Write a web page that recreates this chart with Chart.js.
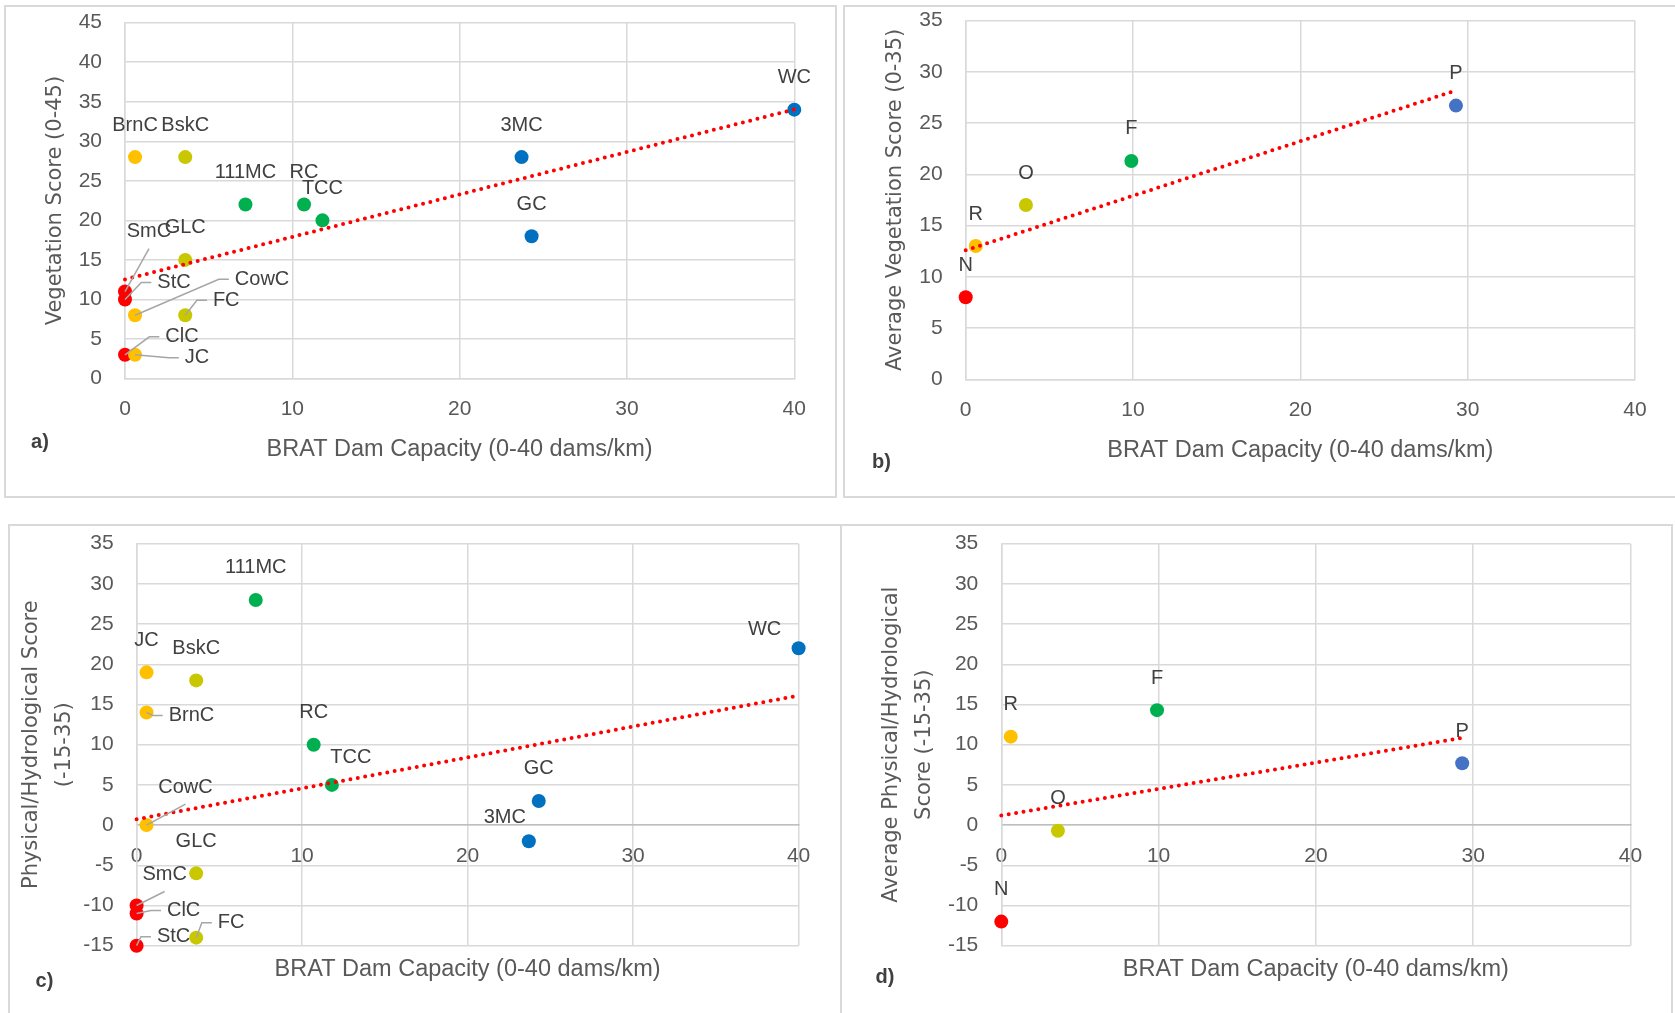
<!DOCTYPE html>
<html>
<head>
<meta charset="utf-8">
<title>BRAT Dam Capacity vs scores</title>
<script src="https://cdn.jsdelivr.net/npm/chart.js"></script>
<style>
  html, body { margin: 0; padding: 0; background: #fff; }
  body { width: 1675px; height: 1013px; position: relative; overflow: hidden; }
  .panel { position: absolute; border: 2px solid #d9d9d9; box-sizing: border-box; background: #fff; }
  .panel canvas { position: absolute; left: 0; top: 0; }
  #pa { left: 4px; top: 5px; width: 833px; height: 493px; }
  #pb { left: 843px; top: 5px; width: 840px; height: 493px; }
  #pc { left: 8px; top: 524px; width: 835px; height: 500px; }
  #pd { left: 840px; top: 524px; width: 833px; height: 500px; }
</style>
</head>
<body>
<div class="panel" id="pa"><canvas id="ca" width="829" height="489"></canvas></div>
<div class="panel" id="pb"><canvas id="cb" width="836" height="489"></canvas></div>
<div class="panel" id="pc"><canvas id="cc" width="831" height="496"></canvas></div>
<div class="panel" id="pd"><canvas id="cd" width="829" height="496"></canvas></div>
<script>
// individual streams (panels a and c)
const streams = ['BrnC', 'BskC', '111MC', 'RC', 'TCC', '3MC', 'GC', 'WC', 'GLC', 'SmC', 'StC', 'CowC', 'FC', 'ClC', 'JC'];
const streamBrat = [0.6, 3.6, 7.2, 10.7, 11.8, 23.7, 24.3, 40, 3.6, 0, 0, 0.6, 3.6, 0, 0.6];
const streamVeg = [28, 28, 22, 22, 20, 28, 18, 34, 15, 11, 10, 8, 8, 3, 3];
const streamPhys = [14, 18, 28, 10, 5, -2, 3, 22, -6, -10, -15, 0, -14, -11, 19];
const streamGroup = ['R', 'O', 'F', 'F', 'F', 'P', 'P', 'P', 'O', 'N', 'N', 'R', 'O', 'N', 'R'];

// group averages (panels b and d)
const groups = ['N', 'R', 'O', 'F', 'P'];
const groupBrat = [0, 0.6, 3.6, 9.9, 29.3];
const groupVeg = [8, 13, 17, 21.3, 26.7];
const groupPhys = [-12, 11, -0.7, 14.3, 7.7];

// axis ranges [min, max, step]
const bratRange = [0, 40, 10];
const vegRange = [0, 45, 5];
const avgVegRange = [0, 35, 5];
const physRange = [-15, 35, 5];

const colorsStreams = { N: '#ff0000', R: '#ffc000', O: '#c9c800', F: '#00b050', P: '#0070c0' };
const colorsGroups = { N: '#ff0000', R: '#ffc000', O: '#c9c800', F: '#00b050', P: '#4472c4' };

// label placement (pixel shift from point, optional leader line)
const shiftA = { SmC: [24, -60, 'below'], StC: [49, -17, 'left'], CowC: [127, -36, 'left'], FC: [41, -15, 'left'], ClC: [57, -18, 'left'], JC: [62, 3, 'left'] };
const shiftC = { BrnC: [45, 3, 'left'], CowC: [39, -38, 'below'], SmC: [28, -31, 'below'], ClC: [47, -3, 'left'], StC: [37, -9, 'left'], FC: [35, -15, 'left'], TCC: [19, -27], '3MC': [-24, -24], WC: [-34, -19] };

const TXT = '#595959';
const GRID = '#d9d9d9';
const SANS = '"Liberation Sans", Arial, sans-serif';

// linear least-squares trendline over the data range
function trendLine(xs, ys) {
  const n = xs.length;
  const mx = xs.reduce((a, b) => a + b, 0) / n;
  const my = ys.reduce((a, b) => a + b, 0) / n;
  let sxy = 0, sxx = 0;
  xs.forEach((x, i) => { sxy += (x - mx) * (ys[i] - my); sxx += (x - mx) * (x - mx); });
  const slope = sxy / sxx, icpt = my - slope * mx;
  const x0 = Math.min(...xs), x1 = Math.max(...xs);
  return [{ x: x0, y: icpt + slope * x0 }, { x: x1, y: icpt + slope * x1 }];
}

const pointNames = {
  id: 'pointNames',
  afterDatasetsDraw(chart, args, o) {
    const ctx = chart.ctx;
    const pts = chart.getDatasetMeta(1).data;
    ctx.save();
    ctx.font = '20px ' + SANS;
    ctx.textAlign = 'center';
    ctx.textBaseline = 'middle';
    o.names.forEach((name, i) => {
      const s = o.shifts[name] || [0, -32];
      const px = pts[i].x, py = pts[i].y;
      const cx = px + s[0], cy = py + s[1];
      if (s[2]) {
        ctx.strokeStyle = '#a6a6a6';
        ctx.lineWidth = 1.5;
        ctx.beginPath();
        ctx.moveTo(px, py);
        if (s[2] === 'below') {
          ctx.lineTo(cx, cy + 17);
        } else {
          const ex = cx - ctx.measureText(name).width / 2 - 6;
          ctx.lineTo(ex - 10, cy);
          ctx.lineTo(ex, cy);
        }
        ctx.stroke();
      }
      ctx.fillStyle = '#404040';
      ctx.fillText(name, cx, cy);
    });
    ctx.font = 'bold 20px ' + SANS;
    ctx.fillStyle = '#404040';
    ctx.fillText(o.letter, o.letterAt[0], o.letterAt[1]);
    ctx.restore();
  }
};

function buildPanel(id, p) {
  const cv = document.getElementById(id);
  const W = cv.width, H = cv.height;
  const colors = p.groups.map(g => p.palette[g]);
  const pts = p.xs.map((x, i) => ({ x: x, y: p.ys[i] }));
  new Chart(cv, {
    type: 'scatter',
    data: {
      datasets: [
        { data: trendLine(p.xs, p.ys), showLine: true, pointRadius: 0, borderColor: '#ff0000',
          borderWidth: 4, borderDash: [0, 7.5], borderCapStyle: 'round', order: 0, clip: false },
        { data: pts, backgroundColor: colors, pointBackgroundColor: colors, pointRadius: 7,
          pointBorderWidth: 0, order: 1, clip: false }
      ]
    },
    options: {
      responsive: false, animation: false, devicePixelRatio: 1, events: [],
      layout: { padding: { left: 0, top: p.area.top, right: W - p.area.right,
                           bottom: p.xAtZero ? H - p.area.bottom : 0 } },
      plugins: {
        legend: { display: false },
        tooltip: { enabled: false },
        pointNames: { names: p.names, shifts: p.shifts, letter: p.letter, letterAt: p.letterAt }
      },
      scales: {
        x: {
          type: 'linear', min: bratRange[0], max: bratRange[1],
          position: p.xAtZero ? { y: 0 } : 'bottom',
          ticks: { stepSize: bratRange[2], padding: 18.5, color: TXT, font: { family: SANS, size: 21 } },
          grid: { color: GRID, lineWidth: 1.5, drawTicks: false },
          border: { color: p.xAtZero ? '#bfbfbf' : GRID, width: 1.5 },
          title: { display: true, text: 'BRAT Dam Capacity (0-40 dams/km)', color: TXT,
                   font: { family: SANS, size: 23.5 }, padding: { top: 0, bottom: p.xTitlePad } },
          afterFit: s => { s.height = H - p.area.bottom; s.paddingLeft = 0; s.paddingRight = 0; }
        },
        y: {
          type: 'linear', min: p.yRange[0], max: p.yRange[1],
          ticks: { stepSize: p.yRange[2], padding: 23, color: TXT, font: { family: SANS, size: 21 } },
          grid: { color: GRID, lineWidth: 1.5, drawTicks: false },
          border: { color: GRID, width: 1.5 },
          title: { display: true, text: p.yTitle, color: TXT,
                   font: { family: '"DejaVu Sans", sans-serif', size: 21, lineHeight: p.yLine },
                   padding: { top: p.yTitlePad, bottom: 0 } },
          afterFit: s => { s.width = p.area.left; s.paddingTop = 0; s.paddingBottom = 0; }
        }
      }
    },
    plugins: [pointNames]
  });
}

buildPanel('ca', {
  names: streams, xs: streamBrat, ys: streamVeg, groups: streamGroup, palette: colorsStreams,
  yRange: vegRange, yTitle: 'Vegetation Score (0-45)', yLine: 1.2, yTitlePad: 37.4,
  area: { left: 119, top: 15.7, right: 788.3, bottom: 371.5 }, xAtZero: false, xTitlePad: 31.9,
  shifts: shiftA, letter: 'a)', letterAt: [34, 435]
});
buildPanel('cb', {
  names: groups, xs: groupBrat, ys: groupVeg, groups: groups, palette: colorsGroups,
  yRange: avgVegRange, yTitle: 'Average Vegetation Score (0-35)', yLine: 1.2, yTitlePad: 38.4,
  area: { left: 120.7, top: 13.5, right: 790, bottom: 372.3 }, xAtZero: false, xTitlePad: 31.2,
  shifts: {}, letter: 'b)', letterAt: [36.5, 455]
});
buildPanel('cc', {
  names: streams, xs: streamBrat, ys: streamPhys, groups: streamGroup, palette: colorsStreams,
  yRange: physRange, yTitle: ['Physical/Hydrological Score', '(-15-35)'], yLine: 1.55, yTitlePad: 5.5,
  area: { left: 126.6, top: 17.7, right: 788.6, bottom: 419.7 }, xAtZero: true, xTitlePad: -81.8,
  shifts: shiftC, letter: 'c)', letterAt: [34.5, 455]
});
buildPanel('cd', {
  names: groups, xs: groupBrat, ys: groupPhys, groups: groups, palette: colorsGroups,
  yRange: physRange, yTitle: ['Average Physical/Hydrological', 'Score (-15-35)'], yLine: 1.55, yTitlePad: 33.4,
  area: { left: 159.3, top: 17.7, right: 788.5, bottom: 419.7 }, xAtZero: true, xTitlePad: -81.8,
  shifts: {}, letter: 'd)', letterAt: [43, 451]
});
</script>
</body>
</html>
